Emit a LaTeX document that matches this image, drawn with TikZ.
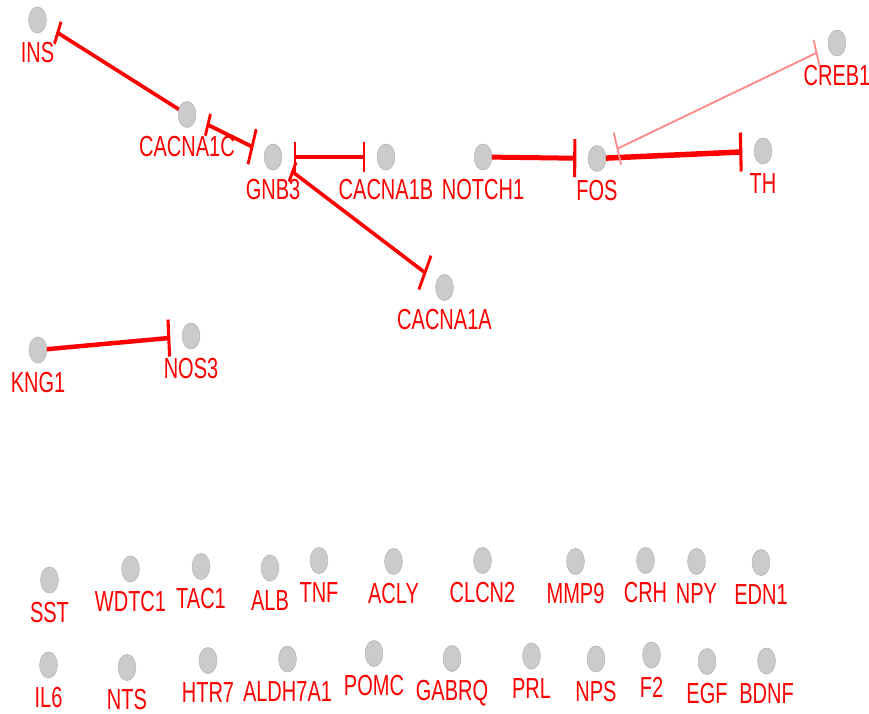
\documentclass[tikz,border=0pt]{standalone}
\usepackage{fontspec}
\setmainfont{Liberation Sans}
\usetikzlibrary{arrows.meta}
\definecolor{nodegray}{HTML}{CBCBCB}
\definecolor{lightred}{HTML}{FF8A8A}
\newcommand\genenode[4]{%
  \node[gene] (#1) at (#2,#3) {};
  \node[lab] (#1-l) at ([yshift=-32pt]#1.center) {#4};}
\begin{document}
\begin{tikzpicture}
\useasboundingbox[fill=white] (0pt,0pt) rectangle (869pt,-713pt);
\begin{scope}[transform canvas={xscale=0.69}, x=1.44928pt, y=-1pt,
  gene/.style={circle, minimum size=26pt, inner sep=0pt, outer sep=0pt,
    fill=nodegray, draw=gray!60, line width=0.6pt},
  lab/.style={text=red, font=\fontsize{29}{29}\selectfont, inner sep=0pt,
    text height=20pt, text depth=0pt, anchor=center},
  e/.style={draw=red, line width=4pt},
  sh/.style={shorten <=17pt, shorten >=17pt}]
% network nodes
\genenode{ins}{37.5}{20}{INS}
\genenode{cacna1c}{187}{114.5}{CACNA1C}
\genenode{gnb3}{273}{157}{GNB3}
\genenode{cacna1b}{386}{157}{CACNA1B}
\genenode{notch1}{483}{157}{NOTCH1}
\genenode{fos}{597}{158.5}{FOS}
\genenode{th}{763}{151}{TH}
\genenode{creb1}{837}{43}{CREB1}
\genenode{cacna1a}{444.5}{287.5}{CACNA1A}
\genenode{kng1}{38}{350}{KNG1}
\genenode{nos3}{191}{336}{NOS3}
% isolated nodes, row 1
\genenode{sst}{49.5}{580}{SST}
\genenode{wdtc1}{130.5}{569}{WDTC1}
\genenode{tac1}{201}{566.5}{TAC1}
\genenode{alb}{270}{568}{ALB}
\genenode{tnf}{319}{560.5}{TNF}
\genenode{acly}{393.5}{561.5}{ACLY}
\genenode{clcn2}{482.5}{560.5}{CLCN2}
\genenode{mmp9}{575.5}{561.5}{MMP9}
\genenode{crh}{645.5}{560.5}{CRH}
\genenode{npy}{696.5}{561.5}{NPY}
\genenode{edn1}{761}{562.5}{EDN1}
% row 2
\genenode{il6}{48.5}{665}{IL6}
\genenode{nts}{127}{667.5}{NTS}
\genenode{htr7}{208}{660.5}{HTR7}
\genenode{aldh7a1}{287.5}{659}{ALDH7A1}
\genenode{pomc}{374}{653.5}{POMC}
\genenode{gabrq}{452}{658.5}{GABRQ}
\genenode{prl}{531.5}{656}{PRL}
\genenode{nps}{596}{659}{NPS}
\genenode{f2}{651.5}{655}{F2}
\genenode{egf}{707}{661.5}{EGF}
\genenode{bdnf}{766.5}{661}{BDNF}
% edges
\draw[e, -{Bar[width=24pt, line width=4pt]}, shorten >=17pt] (cacna1c) -- (ins);
\draw[e, sh, {Bar[width=23pt, line width=4pt]}-{Bar[width=37pt, line width=4pt]}] (cacna1c) -- (gnb3);
\draw[e, sh, {Bar[width=30pt, line width=4pt]}-{Bar[width=30pt, line width=4pt]}] (gnb3) -- (cacna1b);
\draw[e, sh, {Bar[width=22pt, line width=4pt]}-{Bar[width=38pt, line width=4pt]}] (gnb3) -- (cacna1a);
\draw[e, line width=5pt, -{Bar[width=38pt, line width=4.5pt]}, shorten >=17pt] (notch1) -- (fos);
\draw[e, line width=5.5pt, -{Bar[width=39pt, line width=4.5pt]}, shorten >=17pt] (fos) -- (th);
\draw[e, draw=lightred, line width=2pt, sh, {Bar[width=34pt, line width=2.5pt]}-{Bar[width=27pt, line width=2.5pt]}] (fos) -- (creb1);
\draw[e, line width=4.5pt, -{Bar[width=37pt, line width=4.5pt]}, shorten >=17pt] (kng1) -- (nos3);
\end{scope}
\end{tikzpicture}
\end{document}
